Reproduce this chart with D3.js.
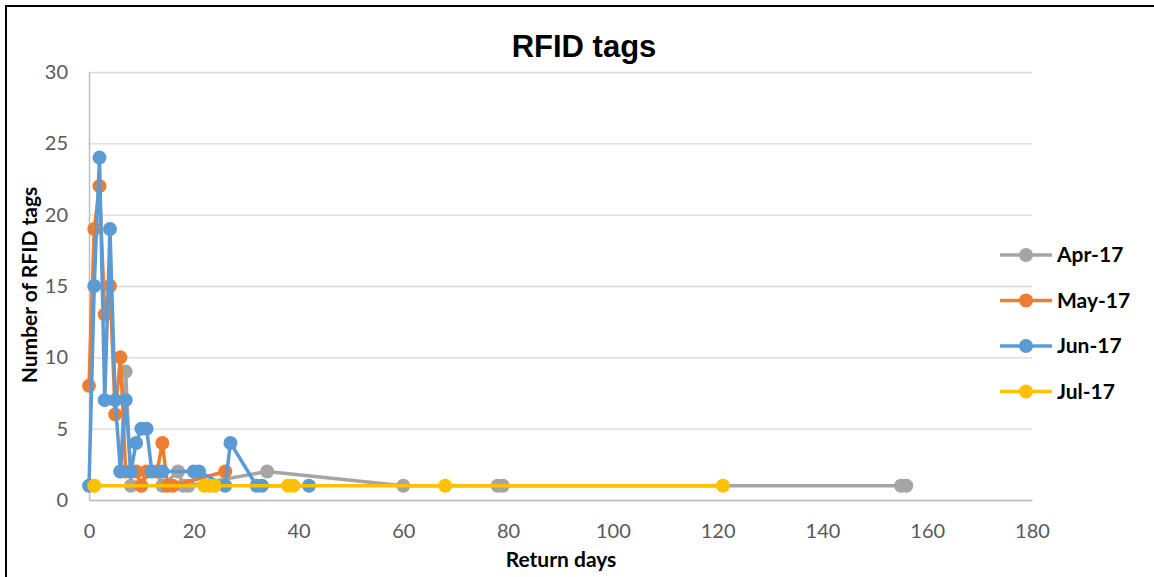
<html>
  <head>
    <meta charset="utf-8">
    <title>RFID tags</title>
    <style>
      body { margin: 0; background: #fff; }
    </style>
  </head>

  <body>
  	<div id="container"></div>
  </body>

  <script src="https://cdn.jsdelivr.net/npm/d3@7/dist/d3.min.js"></script>

  <script>
  // values (return days, number of tags)
  var seriesNames = ["Apr-17", "May-17", "Jun-17", "Jul-17"];
  var seriesColors = ["#a5a5a5", "#ed7d31", "#5b9bd5", "#ffc000"];

  var aprDays = [6, 7, 8, 13, 14, 17, 18, 19, 34, 60, 78, 79, 155, 156];
  var aprTags = [2, 9, 1, 2, 1, 2, 1, 1, 2, 1, 1, 1, 1, 1];

  var mayDays = [0, 1, 2, 3, 4, 5, 6, 7, 8, 9, 10, 11, 13, 14, 15, 16, 26];
  var mayTags = [8, 19, 22, 13, 15, 6, 10, 2, 2, 2, 1, 2, 2, 4, 1, 1, 2];

  var junDays = [0, 1, 2, 3, 4, 5, 6, 7, 8, 9, 10, 11, 12, 14, 20, 21, 26, 27, 32, 33, 42];
  var junTags = [1, 15, 24, 7, 19, 7, 2, 7, 2, 4, 5, 5, 2, 2, 2, 2, 1, 4, 1, 1, 1];

  var julDays = [1, 22, 23, 24, 38, 39, 68, 121];
  var julTags = [1, 1, 1, 1, 1, 1, 1, 1];

  var xTicks = [0, 20, 40, 60, 80, 100, 120, 140, 160, 180];
  var yTicks = [0, 5, 10, 15, 20, 25, 30];

  function main() {

  	var width = 1154;
  	var height = 577;
  	var svg = d3.select("#container").append("svg")
  		.attr("width", width)
  		.attr("height", height)
  		.style("display", "block");

  	// outer frame of the chart (right and bottom fall outside the crop)
  	svg.append("rect")
  		.attr("x", 6).attr("y", 6)
  		.attr("width", 1170).attr("height", 620)
  		.attr("fill", "#fff")
  		.attr("stroke", "#000")
  		.attr("stroke-width", 2);

  	var x = d3.scaleLinear().domain([0, 180]).range([89, 1032]);
  	var y = d3.scaleLinear().domain([0, 30]).range([500, 72]);

  	var tickFont = "Lato, 'Open Sans', sans-serif";

  	// horizontal gridlines
  	svg.append("g")
  		.attr("transform", "translate(" + x(0) + ",0)")
  		.call(d3.axisLeft(y).tickValues(yTicks).tickSize(-(x(180) - x(0))).tickFormat(""))
  		.call(function(g) {
  			g.select(".domain").remove();
  			g.selectAll("line").attr("stroke", "#d9d9d9").attr("stroke-width", 1.3);
  		});

  	// y axis
  	svg.append("g")
  		.attr("transform", "translate(" + x(0) + ",0)")
  		.call(d3.axisLeft(y).tickValues(yTicks).tickSize(0).tickPadding(21))
  		.call(function(g) {
  			g.select(".domain").attr("stroke", "#bfbfbf").attr("stroke-width", 1.5);
  			g.selectAll("text")
  				.attr("fill", "#595959")
  				.style("font-family", tickFont)
  				.style("font-size", "20px");
  		});

  	// x axis
  	svg.append("g")
  		.attr("transform", "translate(0," + y(0) + ")")
  		.call(d3.axisBottom(x).tickValues(xTicks).tickSize(0).tickPadding(24))
  		.call(function(g) {
  			g.select(".domain").attr("stroke", "#bfbfbf").attr("stroke-width", 1.5);
  			g.selectAll("text")
  				.attr("fill", "#595959")
  				.style("font-family", tickFont)
  				.style("font-size", "20px");
  		});

  	// titles
  	svg.append("text")
  		.attr("x", 584).attr("y", 57)
  		.attr("text-anchor", "middle")
  		.style("font-family", "'Liberation Sans', Arial, sans-serif")
  		.style("font-weight", "bold")
  		.style("font-size", "31px")
  		.text("RFID tags");

  	svg.append("text")
  		.attr("x", 561).attr("y", 567)
  		.attr("text-anchor", "middle")
  		.style("font-family", tickFont)
  		.style("font-weight", "bold")
  		.style("font-size", "21px")
  		.text("Return days");

  	svg.append("text")
  		.attr("transform", "translate(37,285) rotate(-90)")
  		.attr("text-anchor", "middle")
  		.style("font-family", tickFont)
  		.style("font-weight", "bold")
  		.style("font-size", "21px")
  		.text("Number of RFID tags");

  	var allDays = [aprDays, mayDays, junDays, julDays];
  	var allTags = [aprTags, mayTags, junTags, julTags];

  	var line = d3.line()
  		.x(function(d) { return x(d[0]); })
  		.y(function(d) { return y(d[1]); });

  	seriesNames.forEach(function(name, i) {
  		var pts = allDays[i].map(function(d, j) { return [d, allTags[i][j]]; });
  		var g = svg.append("g");
  		g.append("path")
  			.datum(pts)
  			.attr("d", line)
  			.attr("fill", "none")
  			.attr("stroke", seriesColors[i])
  			.attr("stroke-width", 3.5)
  			.attr("stroke-linejoin", "round");
  		g.selectAll("circle")
  			.data(pts)
  			.enter().append("circle")
  			.attr("cx", function(d) { return x(d[0]); })
  			.attr("cy", function(d) { return y(d[1]); })
  			.attr("r", 7)
  			.attr("fill", seriesColors[i]);
  	});

  	// legend
  	var legend = svg.append("g");
  	seriesNames.forEach(function(name, i) {
  		var ly = 255 + i * 45.5;
  		legend.append("line")
  			.attr("x1", 1000).attr("x2", 1052)
  			.attr("y1", ly).attr("y2", ly)
  			.attr("stroke", seriesColors[i])
  			.attr("stroke-width", 3.5);
  		legend.append("circle")
  			.attr("cx", 1026).attr("cy", ly)
  			.attr("r", 7)
  			.attr("fill", seriesColors[i]);
  		legend.append("text")
  			.attr("x", 1057).attr("y", ly + 7)
  			.style("font-family", tickFont)
  			.style("font-weight", "bold")
  			.style("font-size", "21px")
  			.text(name);
  	});
  }

  window.onload = main;
  </script>
</html>
